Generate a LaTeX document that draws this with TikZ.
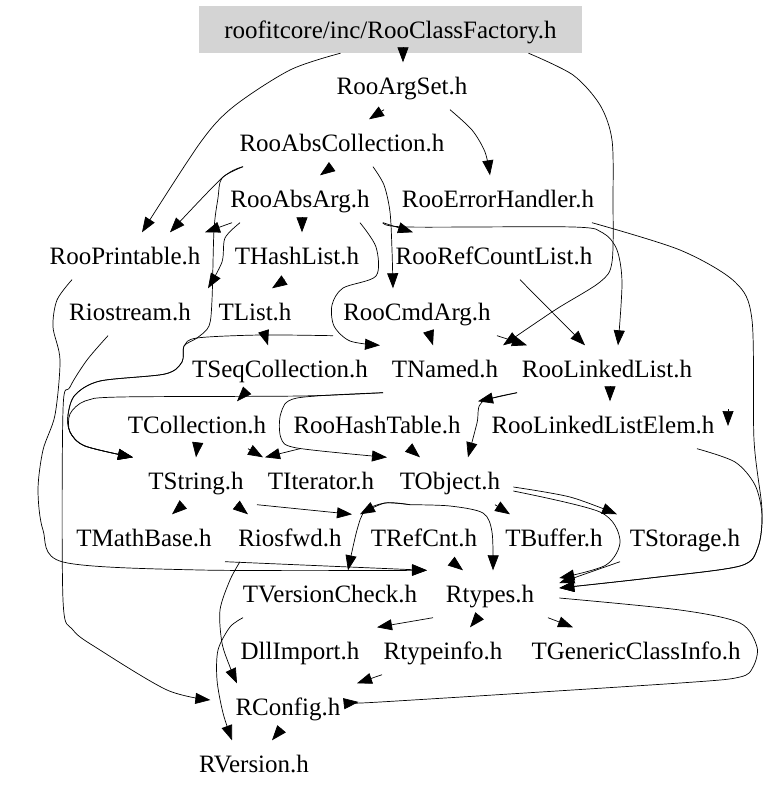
\documentclass[tikz,border=0pt]{standalone}
\usepackage{fontspec}
\setmainfont{Liberation Serif}
\usetikzlibrary{arrows.meta}
\tikzset{
  file/.style={minimum height=47pt, inner xsep=25pt, inner ysep=0pt, text height=20pt, text depth=3pt, font=\fontsize{25}{30}\selectfont},
  topfile/.style={file, fill=black!17},
  dep/.style={-{Triangle[length=15pt,width=11pt]}, line width=0.7pt},
}
\begin{document}
\begin{tikzpicture}[x=1pt,y=-1pt]
\useasboundingbox (0,0) rectangle (779,792);
\node[topfile] (factory) at (390.5,29.5) {roofitcore/inc/RooClassFactory.h};
\node[file] (argset) at (402,86) {RooArgSet.h};
\node[file] (abscoll) at (342,143) {RooAbsCollection.h};
\node[file] (absarg) at (300,199) {RooAbsArg.h};
\node[file] (errhandler) at (498,199) {RooErrorHandler.h};
\node[file] (printable) at (125,256) {RooPrintable.h};
\node[file] (hashlist) at (297,256) {THashList.h};
\node[file] (refcount) at (494,256) {RooRefCountList.h};
\node[file] (riostream) at (130,312) {Riostream.h};
\node[file] (tlist) at (255,312) {TList.h};
\node[file] (cmdarg) at (417,312) {RooCmdArg.h};
\node[file] (seqcoll) at (280,369) {TSeqCollection.h};
\node[file] (tnamed) at (445,369) {TNamed.h};
\node[file] (linkedlist) at (607,369) {RooLinkedList.h};
\node[file] (tcoll) at (197,425) {TCollection.h};
\node[file] (hashtable) at (377,425) {RooHashTable.h};
\node[file] (listelem) at (603,425) {RooLinkedListElem.h};
\node[file] (tstring) at (196,481) {TString.h};
\node[file] (titer) at (321,481) {TIterator.h};
\node[file] (tobject) at (450,481) {TObject.h};
\node[file] (mathbase) at (144,538) {TMathBase.h};
\node[file] (riosfwd) at (290,538) {Riosfwd.h};
\node[file] (refcnt) at (424,538) {TRefCnt.h};
\node[file] (tbuffer) at (554,538) {TBuffer.h};
\node[file] (tstorage) at (685,538) {TStorage.h};
\node[file] (vcheck) at (330,594) {TVersionCheck.h};
\node[file] (rtypes) at (490,594) {Rtypes.h};
\node[file] (dllimport) at (300,651) {DllImport.h};
\node[file] (rtypeinfo) at (443,651) {Rtypeinfo.h};
\node[file] (classinfo) at (636,651) {TGenericClassInfo.h};
\node[file] (rconfig) at (288,707) {RConfig.h};
\node[file] (rversion) at (254,764) {RVersion.h};
\coordinate (stubtop) at (728,409);
\coordinate (stubtip) at (728,426);
\draw[dep] ([xshift=12.5pt]factory.south) -- ([xshift=1pt]argset.north);
\draw[dep] plot[smooth] coordinates {([xshift=-50pt]factory.south) (290,70) (233,107) (200,143) ([xshift=17pt]printable.north)};
\draw[dep] plot[smooth] coordinates {([xshift=138pt]factory.south) (573,75) (600,105) (612,140) (613,200) (612,262) (600,282) (555,310) ([xshift=58pt]tnamed.north)};
\draw[dep] ([xshift=-18pt]argset.south) -- ([xshift=27pt]abscoll.north);
\draw[dep] plot[smooth] coordinates {([xshift=48pt]argset.south) (472,130) (485,152) ([xshift=-8pt]errhandler.north)};
\draw[dep] ([xshift=-10pt]abscoll.south) -- ([xshift=20pt]absarg.north);
\draw[dep] plot[smooth] coordinates {([xshift=31pt]abscoll.south) (384,185) (390,212) (392,250) ([xshift=-24pt]cmdarg.north)};
\draw[dep] plot[smooth] coordinates {([xshift=-99pt]abscoll.south) (222,178) ([xshift=45pt]printable.north)};
\draw[dep] plot[smooth] coordinates {([xshift=-99pt]abscoll.south) (222,178) (218,198) (214,230) (212,300) (209,326) (197,338) (184,346) (182,362) (165,374) (100,381) (75,395) (68,415) (70,432) (85,446) ([xshift=-63pt]tstring.north)};
\draw[dep] ([xshift=-68pt]absarg.south) -- ([xshift=80pt]printable.north);
\draw[dep] ([xshift=2pt]absarg.south) -- ([xshift=5pt]hashlist.north);
\draw[dep] plot[smooth] coordinates {([xshift=-60pt]absarg.south) (225,238) (222,262) ([xshift=78pt]riostream.north)};
\draw[dep] plot[smooth] coordinates {([xshift=60pt]absarg.south) (376,247) (376,276) (343,288) (332,305) (334,326) (350,341) ([xshift=-65pt]tnamed.north)};
\draw[dep] ([xshift=83pt]absarg.south) -- ([xshift=-81pt]refcount.north);
\draw[dep] plot[smooth] coordinates {([xshift=83pt]absarg.south) (407,227) (573,227) (603,233) (617,250) (622,283) ([xshift=11pt]linkedlist.north)};
\draw[dep] ([xshift=-12pt]hashlist.south) -- ([xshift=17pt]tlist.north);
\draw[dep] ([xshift=10pt]tlist.south) -- ([xshift=-12pt]seqcoll.north);
\draw[dep] ([xshift=26pt]refcount.south) -- ([xshift=-22pt]linkedlist.north);
\draw[dep] ([xshift=13pt]cmdarg.south) -- ([xshift=-12pt]tnamed.north);
\draw[dep] ([xshift=80pt]cmdarg.south) -- ([xshift=-80pt]linkedlist.north);
\draw[dep] plot[smooth] coordinates {([xshift=-84pt]cmdarg.south) (260,335) (197,338) (184,346) (182,362) (165,374) (100,381) (75,395) (68,415) (70,432) (85,446) ([xshift=-63pt]tstring.north)};
\draw[dep] plot[smooth] coordinates {([xshift=-62pt]tnamed.south) (300,396) (120,397) (85,401) (70,414) (70,432) (85,446) ([xshift=-63pt]tstring.north)};
\draw[dep] ([xshift=-35pt]seqcoll.south) -- ([xshift=40pt]tcoll.north);
\draw[dep] plot[smooth] coordinates {([xshift=-62pt]tnamed.south) (297,398) (281,413) (281,438) (297,448) ([xshift=-63pt]tobject.north)};
\draw[dep] ([xshift=-90pt]linkedlist.south) -- ([xshift=101pt]hashtable.north);
\draw[dep] plot[smooth] coordinates {([xshift=-90pt]linkedlist.south) (482,402) (477,423) ([xshift=18pt]tobject.north)};
\draw[dep] ([xshift=3pt]linkedlist.south) -- ([xshift=7pt]listelem.north);
\draw[dep] (tcoll.south) -- (tstring.north);
\draw[dep] ([xshift=51pt]tcoll.south) -- ([xshift=-58pt]titer.north);
\draw[dep] ([xshift=-77pt]hashtable.south) -- ([xshift=-56pt]titer.north);
\draw[dep] ([xshift=33pt]hashtable.south) -- ([xshift=-30pt]tobject.north);
\draw[dep] plot[smooth] coordinates {([xshift=94pt]listelem.south) (735,462) (755,485) (762,515) (758,547) (740,566) (650,578) ([yshift=6pt]rtypes.east)};
\draw[dep] plot[smooth] coordinates {([xshift=94pt]errhandler.south) (680,250) (735,282) (752,320) (754,440) (762,510) (758,547) (740,566) (650,578) ([yshift=6pt]rtypes.east)};
\draw[dep] plot[smooth] coordinates {([xshift=-12pt,yshift=-6pt]tobject.east) (570,497) ([xshift=-68pt]tstorage.north)};
\draw[dep] plot[smooth] coordinates {([xshift=-12pt,yshift=-10pt]tobject.east) (600,512) (620,540) (606,565) ([yshift=16pt]rtypes.east)};
\draw[dep] ([xshift=-65pt]tstorage.south) -- ([yshift=11pt]rtypes.east);
\draw[dep] ([xshift=45pt]tobject.south) -- ([xshift=-44pt]tbuffer.north);
\draw[dep] plot[smooth] coordinates {([xshift=-40pt]tobject.south) (385,503) ([xshift=70pt]riosfwd.north)};
\draw[dep] plot[smooth] coordinates {([xshift=-40pt]tobject.south) (385,503) (365,511) (357,530) ([xshift=18pt]vcheck.north)};
\draw[dep] plot[smooth] coordinates {([xshift=-40pt]tobject.south) (450,506) (483,513) (492,532) ([xshift=3pt]rtypes.north)};
\draw[dep] ([xshift=-13pt]tstring.south) -- ([xshift=28pt]mathbase.north);
\draw[dep] ([xshift=40pt]tstring.south) -- ([xshift=-42pt]riosfwd.north);
\draw[dep] ([xshift=61pt]tstring.south) -- ([xshift=-72pt]refcnt.north);
\draw[dep] ([xshift=28pt]refcnt.south) -- ([xshift=-27pt]rtypes.north);
\draw[dep] ([xshift=81pt]mathbase.south) -- ([xshift=-63pt]rtypes.north);
\draw[dep] plot[smooth] coordinates {([xshift=-53pt]printable.south) (57,300) (53,327) (60,360) (55,415) (43,450) (38,490) (43,530) (63,562) (200,570) ([xshift=-63pt]rtypes.north)};
\draw[dep] plot[smooth] coordinates {([xshift=-22pt]riostream.south) (87,360) (70,387) (63,410) (63,600) (73,630) (100,650) (167,690) ([yshift=7pt]rconfig.west)};
\draw[dep] plot[smooth] coordinates {([xshift=-50pt]riosfwd.south) (230,580) (220,610) (222,643) (230,667) ([xshift=-51pt]rconfig.north)};
\draw[dep] plot[smooth] coordinates {([xshift=-87pt]vcheck.south) (230,627) (218,650) (217,680) (223,713) ([xshift=-22pt]rversion.north)};
\draw[dep] ([xshift=-8pt]rconfig.south) -- ([xshift=18pt]rversion.north);
\draw[dep] ([xshift=-57pt]rtypes.south) -- ([xshift=77pt]dllimport.north);
\draw[dep] ([xshift=-12pt]rtypes.south) -- ([xshift=27pt]rtypeinfo.north);
\draw[dep] ([xshift=58pt]rtypes.south) -- ([xshift=-63pt]classinfo.north);
\draw[dep] plot[smooth] coordinates {([yshift=-4pt]rtypes.east) (680,610) (740,623) (757,647) (753,667) (740,677) (680,683) (380,702) ([xshift=-7pt,yshift=5pt]rconfig.east)};
\draw[dep] ([xshift=-61pt]rtypeinfo.south) -- ([xshift=69pt]rconfig.north);
\draw[dep] (stubtop) -- (stubtip);
\end{tikzpicture}
\end{document}
